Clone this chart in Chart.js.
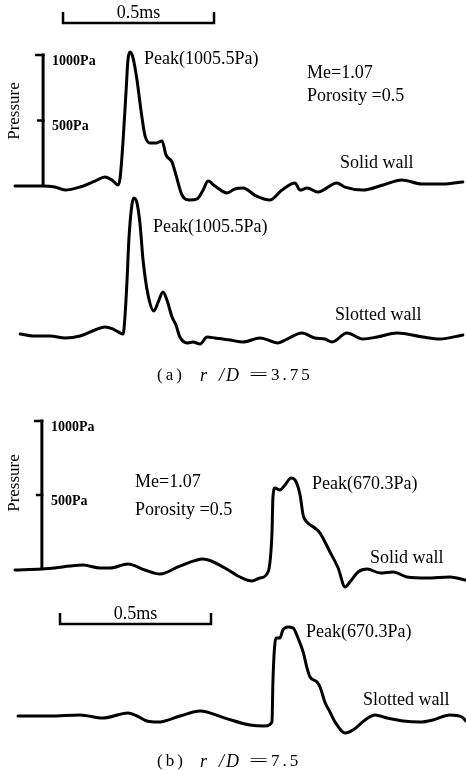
<!DOCTYPE html>
<html>
<head>
<meta charset="utf-8">
<script src="https://cdn.jsdelivr.net/npm/chart.js@4/dist/chart.umd.min.js"></script>
<style>
html,body{margin:0;padding:0;background:#fff;}
canvas{display:block;}
</style>
</head>
<body>
<canvas id="c" width="466" height="770"></canvas>
<script>
// ---- DATA (time in ms, pressure in Pa) ----
// Panel (a) r/D = 3.75, solid wall
const tA1 = [0,0.093,0.132,0.166,0.215,0.265,0.298,0.321,0.341,0.348,0.358,0.368,0.374,0.381,0.391,0.404,0.417,0.430,0.447,0.467,0.487,0.500,0.520,0.533,0.553,0.579,0.603,0.623,0.639,0.662,0.702,0.728,0.755,0.798,0.844,0.884,0.927,0.944,0.967,1.003,1.066,1.093,1.152,1.219,1.281,1.348,1.417,1.483];
const pA1 = [0,0,-8,-31,-8,38,69,46,8,61,351,733,962,1023,977,809,580,389,328,328,344,237,183,84,-69,-107,-99,-31,38,0,-53,-23,-15,-76,-107,-31,23,-31,-15,-46,23,-8,-31,8,46,15,15,31];
// Panel (a) r/D = 3.75, slotted wall
const tA2 = [0.017,0.060,0.116,0.166,0.215,0.265,0.298,0.325,0.358,0.364,0.371,0.377,0.387,0.394,0.404,0.414,0.424,0.440,0.460,0.474,0.490,0.503,0.520,0.533,0.546,0.570,0.589,0.613,0.636,0.662,0.712,0.755,0.811,0.871,0.901,0.950,0.993,1.026,1.050,1.099,1.152,1.199,1.265,1.351,1.407,1.483];
const pA2 = [15,0,0,-15,0,46,69,53,15,145,427,733,1000,1053,1015,855,580,320,191,259,336,275,145,84,-8,-53,-46,-61,-8,-15,-31,-46,-15,-53,-23,23,-15,-23,-46,23,-23,-8,23,-8,-23,8];
// Panel (b) r/D = 7.5, solid wall
const tB1 = [0,0.089,0.132,0.182,0.225,0.281,0.315,0.374,0.430,0.480,0.546,0.623,0.695,0.745,0.785,0.811,0.838,0.851,0.854,0.861,0.877,0.894,0.914,0.927,0.944,0.954,0.970,0.993,1.010,1.043,1.070,1.093,1.109,1.136,1.166,1.209,1.252,1.298,1.364,1.440,1.490];
const pB1 = [-7,0,7,20,27,7,7,34,-7,-34,20,68,7,-54,-81,-61,-20,250,480,548,534,568,615,602,500,365,311,277,243,115,7,-122,-88,-20,0,-27,-20,-54,-61,-54,-74];
// Panel (b) r/D = 7.5, slotted wall
const tB2 = [0.010,0.116,0.215,0.291,0.374,0.404,0.437,0.474,0.546,0.613,0.695,0.778,0.828,0.851,0.854,0.864,0.877,0.887,0.904,0.921,0.937,0.954,0.967,0.977,1.000,1.010,1.026,1.043,1.060,1.093,1.119,1.159,1.192,1.232,1.285,1.341,1.384,1.440,1.480,1.493];
const pB2 = [0,0,7,-14,20,0,-34,-41,0,34,-14,-61,-68,-41,230,527,527,581,602,595,527,433,324,264,230,196,95,27,-41,-115,-95,-27,7,-14,-34,-41,-27,7,-7,-34];

const pressureTicks = [500, 1000];
const pressureTickLabels = ['500Pa', '1000Pa'];
const scaleBarMs = 0.5;
const scaleBarLabel = '0.5ms';
const peakLabelsA = ['Peak(1005.5Pa)', 'Peak(1005.5Pa)'];
const peakLabelsB = ['Peak(670.3Pa)', 'Peak(670.3Pa)'];
const wallLabels = ['Solid wall', 'Slotted wall'];
const paramLabels = ['Me=1.07', 'Porosity =0.5'];

// ---- LAYOUT ----
const W = 466, H = 770;
const PX_PER_MS = 302, X0_PX = 15;
function yRange(basePx, pxPerPa){ const max = basePx / pxPerPa; return {min: max - H / pxPerPa, max: max}; }
const rA1 = yRange(186, 0.131), rA2 = yRange(336, 0.131);
const rB1 = yRange(569, 0.148), rB2 = yRange(716, 0.148);

function pts(t, p){ return t.map((v, i) => ({x: v, y: p[i]})); }
function ds(t, p, axis){
  return {data: pts(t, p), yAxisID: axis, borderColor: '#000', borderWidth: 3,
          pointRadius: 0, cubicInterpolationMode: 'monotone', fill: false,
          borderJoinStyle: 'round', borderCapStyle: 'round'};
}
function yScale(r){ return {type: 'linear', display: false, min: r.min, max: r.max}; }

const SERIF = '"Liberation Serif", "DejaVu Serif", serif';

function drawPressureAxis(ctx, xs, ys, tAxis, titleY){
  const px = xs.getPixelForValue(tAxis);
  const p0 = ys.getPixelForValue(0);
  const pTop = ys.getPixelForValue(pressureTicks[pressureTicks.length - 1]);
  ctx.lineWidth = 3;
  ctx.beginPath(); ctx.moveTo(px, p0); ctx.lineTo(px, pTop - 1.5); ctx.stroke();
  ctx.lineWidth = 2.5;
  ctx.font = 'bold 14px ' + SERIF;
  ctx.textAlign = 'left'; ctx.textBaseline = 'middle';
  pressureTicks.forEach((v, i) => {
    const py = ys.getPixelForValue(v);
    const len = (i === pressureTicks.length - 1) ? 8 : 6;
    ctx.beginPath(); ctx.moveTo(px - len, py); ctx.lineTo(px + 1.5, py); ctx.stroke();
    ctx.fillText(pressureTickLabels[i], px + 9, py + 6);
  });
  ctx.save();
  ctx.translate(15, titleY);
  ctx.rotate(-Math.PI / 2);
  ctx.font = '17px ' + SERIF;
  ctx.textAlign = 'center'; ctx.textBaseline = 'middle';
  ctx.fillText('Pressure', 0, 0);
  ctx.restore();
}

function drawScaleBar(ctx, xs, t0, yPx){
  const x0 = xs.getPixelForValue(t0), x1 = xs.getPixelForValue(t0 + scaleBarMs);
  ctx.lineWidth = 2.5;
  ctx.beginPath();
  ctx.moveTo(x0, yPx - 11); ctx.lineTo(x0, yPx); ctx.lineTo(x1, yPx); ctx.lineTo(x1, yPx - 11);
  ctx.stroke();
  ctx.font = '18px ' + SERIF;
  ctx.textAlign = 'center'; ctx.textBaseline = 'alphabetic';
  ctx.fillText(scaleBarLabel, (x0 + x1) / 2, yPx - 5);
}

function txt(ctx, s, x, y){
  ctx.font = '18px ' + SERIF;
  ctx.textAlign = 'left'; ctx.textBaseline = 'middle';
  ctx.fillText(s, x, y);
}

function caption(ctx, letter, value, y){
  ctx.textAlign = 'left'; ctx.textBaseline = 'middle';
  ctx.font = '17px ' + SERIF;
  ctx.letterSpacing = '3px';
  ctx.fillText('(' + letter + ')', 157, y);
  ctx.letterSpacing = '0px';
  ctx.font = 'italic 18px ' + SERIF;
  ctx.fillText('r', 200, y);
  ctx.letterSpacing = '2px';
  ctx.fillText('/D', 219, y);
  ctx.letterSpacing = '0px';
  ctx.font = '17px ' + SERIF;
  ctx.save(); ctx.translate(249, y); ctx.scale(2, 1); ctx.fillText('=', 0, 0); ctx.restore();
  ctx.letterSpacing = '3px';
  ctx.fillText(value, 271, y);
  ctx.letterSpacing = '0px';
}

const overlay = {
  id: 'overlay',
  afterDatasetsDraw(chart){
    const ctx = chart.ctx, xs = chart.scales.x;
    ctx.save();
    ctx.fillStyle = '#000'; ctx.strokeStyle = '#000'; ctx.lineCap = 'butt';
    // panel (a)
    drawPressureAxis(ctx, xs, chart.scales.yA1, 0.093, 111);
    drawScaleBar(ctx, xs, 0.159, 23);
    txt(ctx, peakLabelsA[0], 144, 59);
    txt(ctx, paramLabels[0], 307, 73);
    txt(ctx, paramLabels[1], 307, 96);
    txt(ctx, wallLabels[0], 340, 163);
    txt(ctx, peakLabelsA[1], 153, 227);
    txt(ctx, wallLabels[1], 335, 315);
    caption(ctx, 'a', '3.75', 376);
    // panel (b)
    drawPressureAxis(ctx, xs, chart.scales.yB1, 0.089, 483);
    drawScaleBar(ctx, xs, 0.149, 624);
    txt(ctx, paramLabels[0], 135, 482);
    txt(ctx, paramLabels[1], 135, 510);
    txt(ctx, peakLabelsB[0], 312, 484);
    txt(ctx, wallLabels[0], 370, 558);
    txt(ctx, peakLabelsB[1], 306, 632);
    txt(ctx, wallLabels[1], 363, 700);
    caption(ctx, 'b', '7.5', 762);
    ctx.restore();
  }
};

new Chart(document.getElementById('c'), {
  type: 'line',
  data: {datasets: [ds(tA1, pA1, 'yA1'), ds(tA2, pA2, 'yA2'), ds(tB1, pB1, 'yB1'), ds(tB2, pB2, 'yB2')]},
  options: {
    responsive: false, animation: false, devicePixelRatio: 1,
    layout: {padding: 0},
    plugins: {legend: {display: false}, tooltip: {enabled: false}},
    scales: {
      x: {type: 'linear', display: false, min: -X0_PX / PX_PER_MS, max: (W - X0_PX) / PX_PER_MS},
      yA1: yScale(rA1), yA2: yScale(rA2), yB1: yScale(rB1), yB2: yScale(rB2)
    }
  },
  plugins: [overlay]
});
</script>
</body>
</html>
